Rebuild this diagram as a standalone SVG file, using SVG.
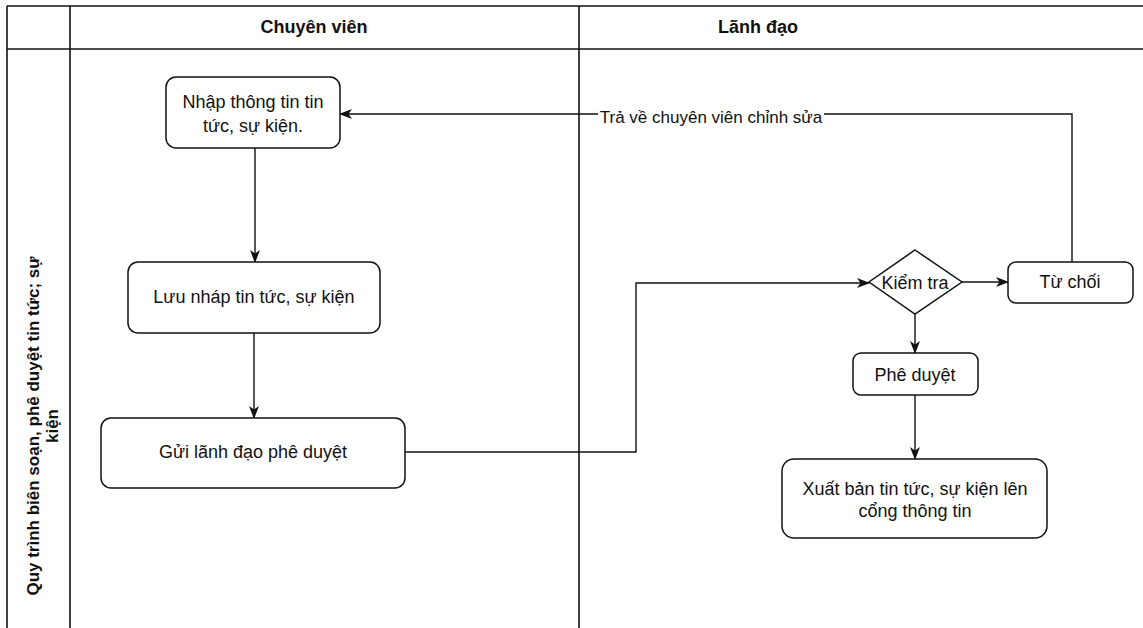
<svg xmlns="http://www.w3.org/2000/svg" width="1143" height="628" viewBox="0 0 1143 628">
<style>
.lane{fill:none;stroke:#111;stroke-width:1.6}
.node{fill:#fff;stroke:#111;stroke-width:1.5}
.t{font-family:"Liberation Sans",Arial,sans-serif;font-size:18px;fill:#111;text-anchor:middle;dominant-baseline:central}
.h{font-family:"Liberation Sans",Arial,sans-serif;font-size:18px;font-weight:bold;fill:#111;text-anchor:middle;dominant-baseline:central}
.v{font-family:"Liberation Sans",Arial,sans-serif;font-size:17px;font-weight:bold;fill:#111;text-anchor:middle;dominant-baseline:central}
.edge{fill:none;stroke:#111;stroke-width:1.4}
.lbl{font-family:"Liberation Sans",Arial,sans-serif;font-size:17px;fill:#111;text-anchor:middle;dominant-baseline:central}
</style>
<defs>
<marker id="arr" viewBox="0 0 13 10" refX="12" refY="5" markerWidth="13" markerHeight="10" markerUnits="userSpaceOnUse" orient="auto">
<path d="M0,0 L13,5 L0,10 L3.5,5 Z" fill="#111"/>
</marker>
</defs>
<rect width="1143" height="628" fill="#fff"/>
<g id="pool">
<line class="lane" x1="7" y1="6" x2="1143" y2="6"/>
<line class="lane" x1="7" y1="49" x2="1143" y2="49"/>
<line class="lane" x1="7" y1="6" x2="7" y2="628"/>
<line class="lane" x1="70" y1="6" x2="70" y2="628"/>
<line class="lane" x1="579" y1="6" x2="579" y2="628"/>
<text class="h" x="314" y="27">Chuyên viên</text>
<text class="h" x="758" y="27">Lãnh đạo</text>
<text class="v" transform="translate(42,426) rotate(-90)"><tspan x="0" y="-9">Quy trình biên soạn, phê duyệt tin tức; sự</tspan><tspan x="0" y="10">kiện</tspan></text>
</g>
<g id="edges">
<line class="edge" x1="255" y1="148" x2="255" y2="262" marker-end="url(#arr)"/>
<line class="edge" x1="254" y1="333" x2="254" y2="418" marker-end="url(#arr)"/>
<polyline class="edge" points="405,452 636,452 636,283 869,283" marker-end="url(#arr)"/>
<line class="edge" x1="962" y1="282" x2="1008" y2="282" marker-end="url(#arr)"/>
<line class="edge" x1="915" y1="314" x2="915" y2="353" marker-end="url(#arr)"/>
<line class="edge" x1="915" y1="395" x2="915" y2="459" marker-end="url(#arr)"/>
<polyline class="edge" points="1072,262 1072,114 340,114" marker-end="url(#arr)"/>
<rect x="598" y="106" width="226" height="21" fill="#fff"/>
<text class="lbl" x="711" y="117">Trả về chuyên viên chỉnh sửa</text>
</g>
<g id="n1">
<rect class="node" x="166" y="77" width="174" height="71" rx="10"/>
<text class="t" x="253" y="102">Nhập thông tin tin</text>
<text class="t" x="253" y="126">tức, sự kiện.</text>
</g>
<g id="n2">
<rect class="node" x="128" y="262" width="252" height="71" rx="10"/>
<text class="t" x="254" y="297">Lưu nháp tin tức, sự kiện</text>
</g>
<g id="n3">
<rect class="node" x="101" y="418" width="304" height="70" rx="10"/>
<text class="t" x="253" y="452">Gửi lãnh đạo phê duyệt</text>
</g>
<g id="n4">
<polygon class="node" points="915,250 962,282 915,314 869,282"/>
<text class="t" x="915" y="283">Kiểm tra</text>
</g>
<g id="n5">
<rect class="node" x="1008" y="262" width="125" height="41" rx="8"/>
<text class="t" x="1070" y="282">Từ chối</text>
</g>
<g id="n6">
<rect class="node" x="853" y="353" width="125" height="42" rx="8"/>
<text class="t" x="915" y="375">Phê duyệt</text>
</g>
<g id="n7">
<rect class="node" x="782" y="459" width="265" height="79" rx="12"/>
<text class="t" x="915" y="489">Xuất bản tin tức, sự kiện lên</text>
<text class="t" x="915" y="511">cổng thông tin</text>
</g>
</svg>
